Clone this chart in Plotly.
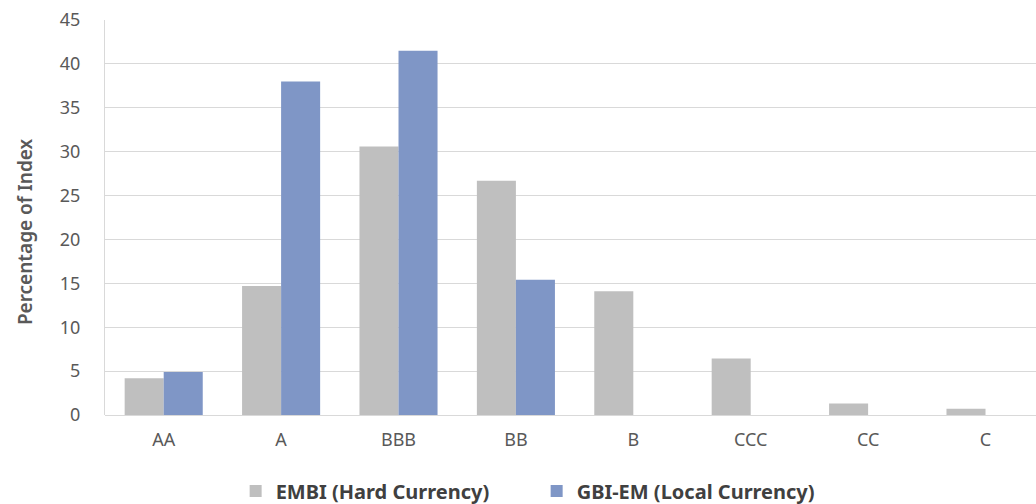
import plotly.graph_objects as go

categories = ["AA", "A", "BBB", "BB", "B", "CCC", "CC", "C"]
embi = [4.2, 14.7, 30.6, 26.7, 14.1, 6.45, 1.3, 0.7]
gbi = [4.9, 38.0, 41.5, 15.4, None, None, None, None]
y_ticks = list(range(0, 50, 5))

FONT = "Noto Sans"
fig = go.Figure()
fig.add_trace(go.Bar(x=categories, y=embi, name="EMBI (Hard Currency)",
                     marker=dict(color="#BFBFBF", line=dict(width=0))))
fig.add_trace(go.Bar(x=categories, y=gbi, name="GBI-EM (Local Currency)",
                     marker=dict(color="#7F96C6", line=dict(width=0))))

fig.update_layout(
    width=1036, height=504,
    margin=dict(l=105, r=0, t=20, b=89),
    paper_bgcolor="white", plot_bgcolor="white",
    barmode="group", bargap=0.335, bargroupgap=0,
    font=dict(family=FONT, color="#595959", size=18),
    legend=dict(orientation="h", xref="container", x=0.518, xanchor="center",
                yref="container", y=0.026, yanchor="middle",
                font=dict(size=20, color="#404040", family=FONT, weight=700),
                itemwidth=30, entrywidth=256, traceorder="normal"),
    showlegend=True,
    annotations=[dict(text="Percentage of Index", textangle=-90,
                      xref="paper", yref="paper", x=0, y=0.463,
                      xanchor="center", yanchor="middle", xshift=-80,
                      showarrow=False,
                      font=dict(size=19, color="#595959", family=FONT, weight=600))],
)
fig.update_xaxes(type="category", range=[-0.5, 7.43], showgrid=False,
                 showline=False, ticks="", ticklabelstandoff=12,
                 tickfont=dict(size=18, color="#595959"))
fig.update_yaxes(range=[0, 45], tickvals=y_ticks, showgrid=True, gridcolor="#D9D9D9",
                 gridwidth=1, zeroline=True, zerolinecolor="#D9D9D9", zerolinewidth=1,
                 showline=True, linecolor="#D9D9D9", linewidth=1,
                 ticks="", ticklabelstandoff=20,
                 tickfont=dict(size=18, color="#595959"))

fig.write_html("out.html")
